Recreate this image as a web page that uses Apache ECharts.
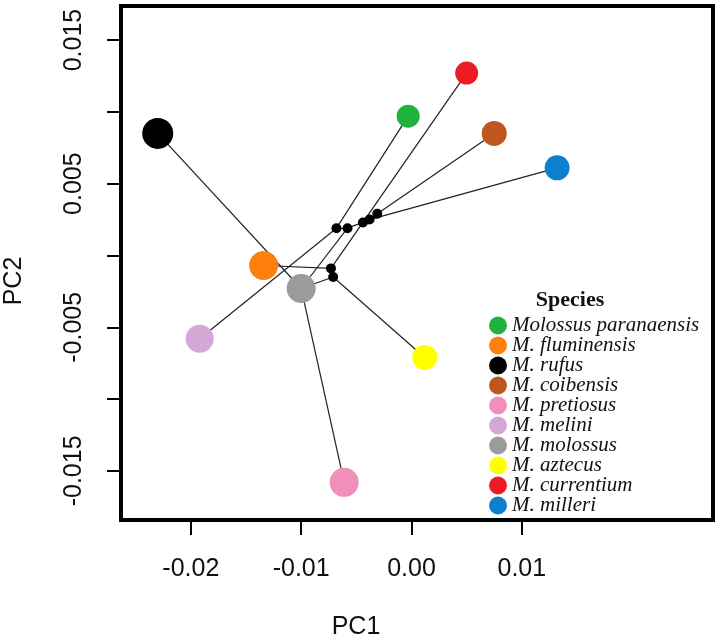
<!DOCTYPE html>
<html>
<head>
<meta charset="utf-8">
<script src="https://cdn.jsdelivr.net/npm/echarts@6/dist/echarts.min.js"></script>
<style>
  html, body { margin: 0; padding: 0; background: #fff; }
  #chart { width: 720px; height: 642px; }
</style>
</head>
<body>
<div id="chart"></div>
<script>
// species scores (tips)
var species = ['Molossus paranaensis', 'M. fluminensis', 'M. rufus', 'M. coibensis', 'M. pretiosus',
  'M. melini', 'M. molossus', 'M. aztecus', 'M. currentium', 'M. milleri']
var pc1 = [-0.0003, -0.0134, -0.0230, 0.0075, -0.0061, -0.0192, -0.0100, 0.0012, 0.0050, 0.0132]
var pc2 = [0.0097, -0.0007, 0.0085, 0.0085, -0.0158, -0.0058, -0.0023, -0.0071, 0.0127, 0.0061]

// internal nodes (small black dots)
var nodeIds = ['n1', 'n2', 'n3', 'n4', 'n5', 'n6', 'n7', 'n8']
var nodePC1 = [-0.0068, -0.0058, -0.0044, -0.0038, -0.0031, -0.0073, -0.0071, -0.0100]
var nodePC2 = [0.0019, 0.0019, 0.0023, 0.0025, 0.0029, -0.0009, -0.0015, -0.0023]

// branches
var edges = [
  ['Molossus paranaensis', 'n1'], ['M. melini', 'n1'], ['n1', 'n2'], ['M. molossus', 'n2'],
  ['n2', 'n3'], ['M. currentium', 'n3'], ['n3', 'n4'], ['M. milleri', 'n4'], ['n4', 'n5'],
  ['M. coibensis', 'n5'], ['n3', 'n6'], ['M. fluminensis', 'n6'], ['n6', 'n7'],
  ['M. aztecus', 'n7'], ['n7', 'n8'], ['M. rufus', 'n8'], ['M. pretiosus', 'n8']
]

var xTicks = [-0.02, -0.01, 0, 0.01]
var yTicks = [-0.015, -0.01, -0.005, 0, 0.005, 0.01, 0.015]
var yLabelValues = [-0.015, -0.005, 0.005, 0.015]

var colors = {
  'Molossus paranaensis': '#1db33c',
  'M. fluminensis': '#ff7f0e',
  'M. rufus': '#000000',
  'M. coibensis': '#c0561f',
  'M. pretiosus': '#ef8fba',
  'M. melini': '#d4a7d4',
  'M. molossus': '#9b9b9b',
  'M. aztecus': '#ffff00',
  'M. currentium': '#ec1c24',
  'M. milleri': '#0a80cf'
}
var sizes = {
  'Molossus paranaensis': 23,
  'M. fluminensis': 29,
  'M. rufus': 31,
  'M. coibensis': 25,
  'M. pretiosus': 29,
  'M. melini': 28,
  'M. molossus': 29,
  'M. aztecus': 25,
  'M. currentium': 23,
  'M. milleri': 25
}

function coordOf (id) {
  var i = species.indexOf(id)
  if (i >= 0) return [pc1[i], pc2[i]]
  var j = nodeIds.indexOf(id)
  return [nodePC1[j], nodePC2[j]]
}

var axisFont = 'Liberation Sans'

var series = [{
  type: 'lines',
  coordinateSystem: 'cartesian2d',
  silent: true,
  z: 1,
  lineStyle: { color: '#222', width: 1.2, opacity: 1 },
  data: edges.map(function (e) {
    return { coords: [coordOf(e[0]), coordOf(e[1])] }
  })
}, {
  type: 'scatter',
  name: 'nodes',
  z: 2,
  symbolSize: 10,
  itemStyle: { color: '#000', opacity: 1 },
  data: nodeIds.map(function (id, j) { return [nodePC1[j], nodePC2[j]] })
}]

species.forEach(function (s, i) {
  series.push({
    type: 'scatter',
    name: s,
    z: 3,
    symbol: 'circle',
    symbolSize: sizes[s],
    itemStyle: { color: colors[s], opacity: 1 },
    data: [[pc1[i], pc2[i]]]
  })
})

var chart = echarts.init(document.getElementById('chart'))
chart.setOption({
  animation: false,
  backgroundColor: '#fff',
  grid: {
    left: 121, top: 6, width: 592, height: 514,
    show: true, borderColor: '#000', borderWidth: 4, backgroundColor: 'transparent'
  },
  xAxis: {
    type: 'value',
    min: -0.02633,
    max: 0.02733,
    axisLine: { show: false, onZero: false },
    splitLine: { show: false },
    axisTick: { show: true, inside: false, customValues: xTicks, length: 15, lineStyle: { color: '#000', width: 2 } },
    axisLabel: {
      customValues: xTicks,
      margin: 37,
      fontFamily: axisFont, fontSize: 25, color: '#111',
      formatter: function (v) { return v.toFixed(2) }
    }
  },
  yAxis: {
    type: 'value',
    min: -0.01842,
    max: 0.01737,
    axisLine: { show: false, onZero: false },
    splitLine: { show: false },
    axisTick: { show: true, inside: false, customValues: yTicks, length: 14, lineStyle: { color: '#000', width: 2 } },
    axisLabel: {
      customValues: yLabelValues,
      rotate: 90,
      margin: 34,
      fontFamily: axisFont, fontSize: 25, color: '#111',
      formatter: function (v) { return v.toFixed(3) }
    }
  },
  legend: {
    data: species,
    orient: 'vertical',
    left: 489,
    top: 315,
    padding: 0,
    itemGap: -1,
    itemWidth: 18,
    itemHeight: 18,
    icon: 'circle',
    selectedMode: false,
    textStyle: {
      fontFamily: 'Liberation Serif', fontStyle: 'italic', fontSize: 21, lineHeight: 20, color: '#111'
    }
  },
  graphic: [{
    type: 'text', x: 570, y: 300,
    style: { text: 'Species', font: 'bold 22px "Liberation Serif"', fill: '#111', textAlign: 'center', textVerticalAlign: 'middle' }
  }, {
    type: 'text', x: 356, y: 627,
    style: { text: 'PC1', font: '25px "Liberation Sans"', fill: '#111', textAlign: 'center', textVerticalAlign: 'middle' }
  }, {
    type: 'text', x: 14, y: 281, rotation: Math.PI / 2,
    style: { text: 'PC2', font: '25px "Liberation Sans"', fill: '#111', textAlign: 'center', textVerticalAlign: 'middle' }
  }],
  series: series
})
</script>
</body>
</html>
